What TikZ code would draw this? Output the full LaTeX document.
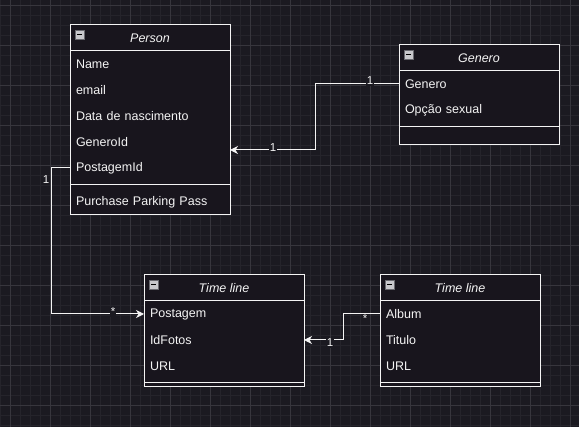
\documentclass[tikz,border=0pt]{standalone}
\usepackage{fontspec}
\setmainfont{Liberation Sans}
\usetikzlibrary{arrows.meta}
\definecolor{bgc}{HTML}{1B1A21}
\definecolor{boxfill}{HTML}{18151D}
\definecolor{minorc}{HTML}{25242B}
\definecolor{majorc}{HTML}{37363D}
\definecolor{fg}{HTML}{F4F4F4}
\definecolor{iconfill}{HTML}{C8C8CC}
\definecolor{icondraw}{HTML}{6A6A70}
\tikzset{
  minorline/.style={draw=minorc,line width=0.6pt},
  majorline/.style={draw=majorc,line width=0.8pt},
  classbox/.style={draw=fg,fill=boxfill,line width=1pt,minimum width=160pt,inner sep=0pt,outer sep=0pt},
  sepline/.style={draw=fg,line width=1pt},
  headtext/.style={text=fg,font=\fontsize{12.5}{14}\selectfont\itshape,inner sep=0pt},
  rowtext/.style={text=fg,font=\fontsize{12.5}{14}\selectfont,text width=148pt,align=left,inner xsep=6pt,inner ysep=0pt,minimum height=26pt,outer sep=0pt,anchor=west},
  conn/.style={draw=fg,line width=1pt,-{Stealth[length=8pt,width=8pt,inset=2.5pt]}},
  mult/.style={text=fg,fill=bgc,font=\fontsize{11.5}{12}\selectfont,inner sep=1pt},
  iconbox/.style={draw=icondraw,fill=iconfill,line width=0.6pt},
}
\begin{document}
\begin{tikzpicture}[x=1pt,y=-1pt]
\fill[bgc] (0,0) rectangle (579,427);
\useasboundingbox (0,0) rectangle (579,427);
% grid
\foreach \x in {0,10,...,570} \draw[minorline] (\x,0) -- (\x,427);
\foreach \y in {5,15,...,425} \draw[minorline] (0,\y) -- (579,\y);
\foreach \x in {10,50,...,570} \draw[majorline] (\x,0) -- (\x,427);
\foreach \y in {5,45,...,405} \draw[majorline] (0,\y) -- (579,\y);

% Person
\node[classbox,minimum height=190pt] (person) at (150,120) {};
\draw[sepline] (70,51) -- (230,51);
\draw[sepline] (70,185) -- (230,185);
\draw[iconbox] (75,30) rectangle (84,39);
\draw[line width=1pt] (77,34.5) -- (82,34.5);
\node[headtext] (person-h) at (150,38.5) {Person};
\node[rowtext] (p-name) at (70,64) {Name};
\node[rowtext] (p-email) at (70,90) {email};
\node[rowtext] (p-data) at (70,116) {Data de nascimento};
\node[rowtext] (p-generoid) at (70,142) {GeneroId};
\node[rowtext] (p-postagemid) at (70,168) {PostagemId};
\node[rowtext] (p-purchase) at (70,202) {Purchase Parking Pass};

% Genero
\node[classbox,minimum height=100pt] (genero) at (479,95) {};
\draw[sepline] (399,71) -- (559,71);
\draw[sepline] (399,127) -- (559,127);
\draw[iconbox] (404,50) rectangle (413,59);
\draw[line width=1pt] (406,54.5) -- (411,54.5);
\node[headtext] (genero-h) at (479,58.5) {Genero};
\node[rowtext] (g-genero) at (399,84) {Genero};
\node[rowtext] (g-opcao) at (399,110) {Opção sexual};

% Time line (left)
\node[classbox,minimum height=112pt] (tl) at (224,331) {};
\draw[sepline] (144,301) -- (304,301);
\draw[sepline] (144,383) -- (304,383);
\draw[iconbox] (149,280) rectangle (158,289);
\draw[line width=1pt] (151,284.5) -- (156,284.5);
\node[headtext] (tl-h) at (224,288.5) {Time line};
\node[rowtext] (t-postagem) at (144,314) {Postagem};
\node[rowtext] (t-idfotos) at (144,340) {IdFotos};
\node[rowtext] (t-url) at (144,366) {URL};

% Time line (right)
\node[classbox,minimum height=112pt] (tr) at (460,331) {};
\draw[sepline] (380,301) -- (540,301);
\draw[sepline] (380,383) -- (540,383);
\draw[iconbox] (385,280) rectangle (394,289);
\draw[line width=1pt] (387,284.5) -- (392,284.5);
\node[headtext] (tr-h) at (460,288.5) {Time line};
\node[rowtext] (r-album) at (380,314) {Album};
\node[rowtext] (r-titulo) at (380,340) {Titulo};
\node[rowtext] (r-url) at (380,366) {URL};

% connectors
\draw[conn] (g-genero.west) -- (315,84) |- ([yshift=-8pt]p-generoid.east);
\node[mult] (m1) at (370,81) {1};
\node[mult] (m2) at (273,148) {1};

\draw[conn] (p-postagemid.west) -- (51,168) |- (t-postagem.west);
\node[mult,fill=none] (m3) at (46,180) {1};
\node[mult] (m4) at (113,312) {*};

\draw[conn] (r-album.west) -- (343,314) |- (t-idfotos.east);
\node[mult] (m5) at (365,319) {*};
\node[mult] (m6) at (330,343) {1};
\end{tikzpicture}
\end{document}
